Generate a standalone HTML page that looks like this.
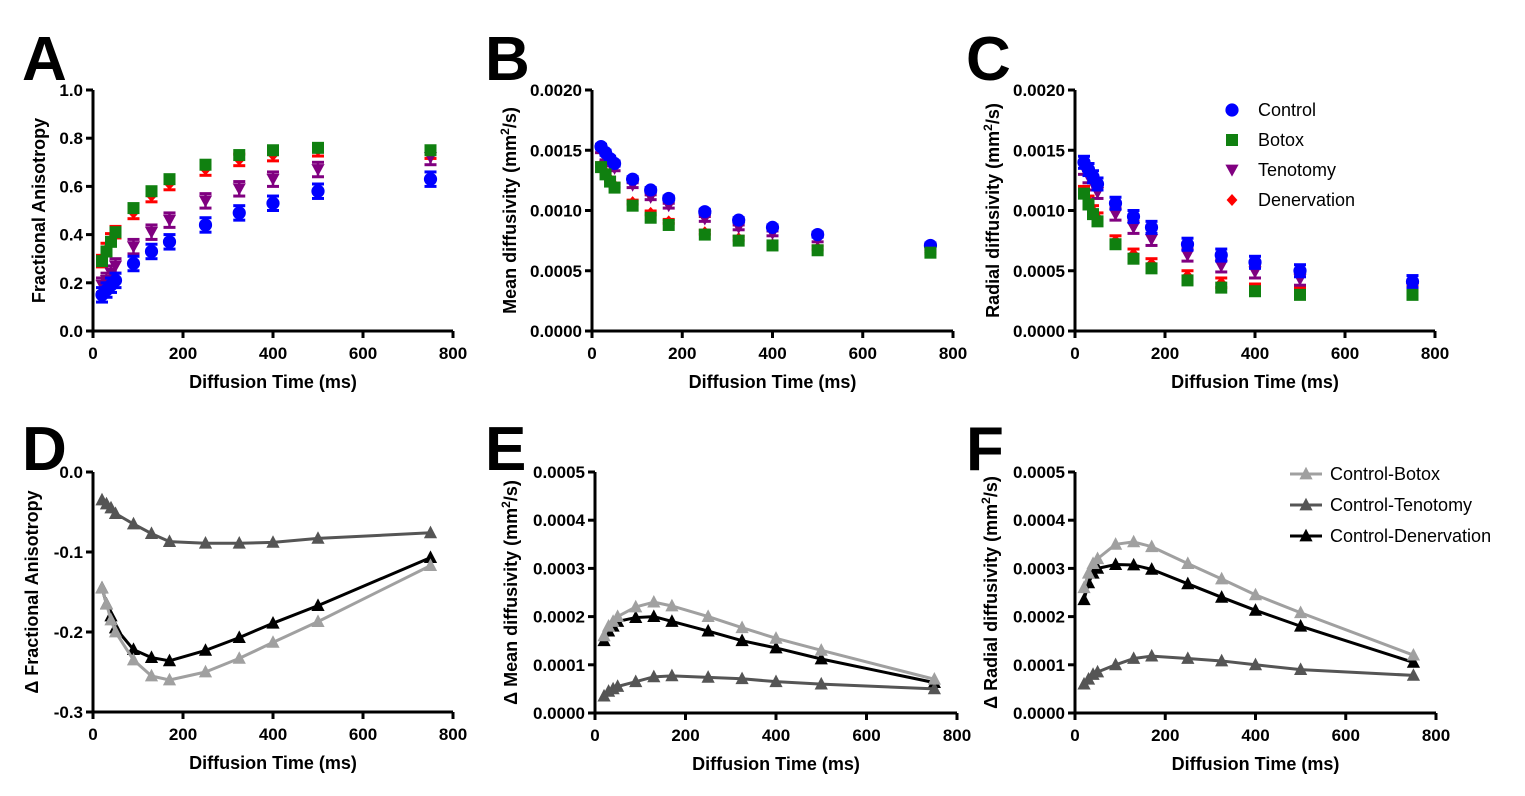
<!DOCTYPE html>
<html><head><meta charset="utf-8">
<style>
body{margin:0;background:#fff;}
svg{display:block;font-family:"Liberation Sans",Arial,sans-serif;}
.tk{font-size:17px;font-weight:bold;fill:#000;}
.ti{font-size:18px;font-weight:bold;fill:#000;}
.pl{font-size:62px;font-weight:bold;fill:#000;}
.lg{font-size:18px;fill:#000;}
</style></head>
<body>
<svg id="fig" width="1525" height="796" viewBox="0 0 1525 796" xmlns="http://www.w3.org/2000/svg"></svg>
<script>
const times=[20,30,40,50,90,130,170,250,325,400,500,750];
const xTicks=[0,200,400,600,800];
// Panel A
const faControl=[0.15,0.17,0.19,0.21,0.28,0.33,0.37,0.44,0.49,0.53,0.58,0.63];
const faBotox=[0.29,0.33,0.37,0.41,0.51,0.58,0.63,0.69,0.73,0.75,0.76,0.75];
const faTenotomy=[0.19,0.21,0.24,0.27,0.35,0.41,0.46,0.54,0.59,0.63,0.67,0.72];
const faDenervation=[0.29,0.34,0.38,0.41,0.49,0.56,0.61,0.67,0.71,0.73,0.75,0.74];
const faErr=0.03;
const faTicks=["0.0","0.2","0.4","0.6","0.8","1.0"];
// Panel B
const mdControl=[0.00153,0.00148,0.00143,0.00139,0.00126,0.00117,0.00110,0.00099,0.00092,0.00086,0.00080,0.00071];
const mdBotox=[0.00136,0.00130,0.00124,0.00119,0.00104,0.00094,0.00088,0.00080,0.00075,0.00071,0.00067,0.00065];
const mdTenotomy=[0.00150,0.00144,0.00139,0.00135,0.00121,0.00111,0.00104,0.00093,0.00086,0.00081,0.00076,0.00068];
const mdDenervation=[0.00138,0.00132,0.00126,0.00121,0.00107,0.00098,0.00091,0.00082,0.00077,0.00072,0.00069,0.00066];
const mdErr=0.00002;
const dTicks=["0.0000","0.0005","0.0010","0.0015","0.0020"];
// Panel C
const rdControl=[0.00140,0.00134,0.00128,0.00122,0.00106,0.00095,0.00086,0.00072,0.00063,0.00057,0.00050,0.00041];
const rdBotox=[0.00114,0.00105,0.00097,0.00091,0.00072,0.00060,0.00052,0.00042,0.00036,0.00033,0.00030,0.00030];
const rdTenotomy=[0.00135,0.00128,0.00122,0.00115,0.00097,0.00086,0.00076,0.00063,0.00054,0.00049,0.00043,0.00035];
const rdDenervation=[0.00116,0.00108,0.00100,0.00094,0.00075,0.00064,0.00056,0.00046,0.00040,0.00035,0.00032,0.00033];
const rdErr=0.00005;
// Panel D
const dfaCB=[-0.145,-0.165,-0.185,-0.200,-0.235,-0.255,-0.260,-0.250,-0.233,-0.213,-0.187,-0.117];
const dfaCT=[-0.035,-0.040,-0.045,-0.052,-0.065,-0.077,-0.087,-0.089,-0.089,-0.088,-0.083,-0.076];
const dfaCD=[-0.145,-0.165,-0.180,-0.195,-0.222,-0.232,-0.236,-0.223,-0.207,-0.189,-0.167,-0.107];
const dfaTicks=["-0.3","-0.2","-0.1","0.0"];
// Panel E
const dmdCB=[0.00016,0.00018,0.00019,0.00020,0.00022,0.00023,0.000222,0.00020,0.000177,0.000155,0.00013,0.00007];
const dmdCT=[0.000035,0.000045,0.00005,0.000055,0.000065,0.000075,0.000077,0.000074,0.000071,0.000065,0.00006,0.00005];
const dmdCD=[0.00015,0.00017,0.00018,0.00019,0.000198,0.0002,0.00019,0.00017,0.00015,0.000135,0.000112,0.000063];
const ddTicks=["0.0000","0.0001","0.0002","0.0003","0.0004","0.0005"];
// Panel F
const drdCB=[0.00026,0.00029,0.00031,0.00032,0.00035,0.000355,0.000345,0.00031,0.000278,0.000245,0.000208,0.00012];
const drdCT=[0.00006,0.00007,0.00008,0.000085,0.0001,0.000113,0.000118,0.000113,0.000108,0.0001,0.00009,0.000078];
const drdCD=[0.000235,0.00027,0.00029,0.0003,0.000308,0.000307,0.000298,0.000268,0.00024,0.000213,0.00018,0.000105];

const NS="http://www.w3.org/2000/svg";
const svg=document.getElementById('fig');
function mk(tag,attrs,parent,text){const e=document.createElementNS(NS,tag);for(const k in attrs)e.setAttribute(k,attrs[k]);if(text!==undefined)e.textContent=text;(parent||svg).appendChild(e);return e;}

function axes(g,P,yTicks,yTitle,sup){
  const xs=v=>P.x0+(v-0)/800*(P.x1-P.x0);
  const ys=v=>P.yb-(v-P.ymin)/(P.ymax-P.ymin)*(P.yb-P.yt);
  let ax=mk('line',{x1:P.x0,y1:P.yt,x2:P.x0,y2:P.yb,stroke:'#000','stroke-width':3},g);
  
  ax=mk('line',{x1:P.x0-1.5,y1:P.yb,x2:P.x1,y2:P.yb,stroke:'#000','stroke-width':3},g);
  
  xTicks.forEach(t=>{const x=xs(t);mk('line',{x1:x,y1:P.yb,x2:x,y2:P.yb+7,stroke:'#000','stroke-width':3},g);
    const l=mk('text',{x:x,y:P.yb+28,'text-anchor':'middle',class:'tk'},g,String(t));
    });
  yTicks.forEach(t=>{const y=ys(parseFloat(t));mk('line',{x1:P.x0-7,y1:y,x2:P.x0,y2:y,stroke:'#000','stroke-width':3},g);
    const l=mk('text',{x:P.x0-10,y:y+6,'text-anchor':'end',class:'tk'},g,t);
    });
  const xt=mk('text',{x:(P.x0+P.x1)/2,y:P.yb+57,'text-anchor':'middle',class:'ti'},g,'Diffusion Time (ms)');
  
  const yt=mk('text',{x:0,y:0,'text-anchor':'middle',class:'ti',transform:`translate(${P.x0-P.ytOff},${(P.yt+P.yb)/2}) rotate(-90)`},g);
  
  if(sup){yt.appendChild(document.createTextNode(yTitle+' (mm'));mk('tspan',{dy:-7,'font-size':12},yt,'2');mk('tspan',{dy:7},yt,'/s)');}
  else yt.textContent=yTitle;
  const pl=mk('text',{x:P.lx,y:P.ly,class:'pl'},g,P.letter);
  
  return {xs,ys};
}
function marker(g,type,x,y,color,s){
  if(type==='circle')return mk('circle',{cx:x,cy:y,r:s*0.55,fill:color},g);
  if(type==='square')return mk('rect',{x:x-s*0.5,y:y-s*0.5,width:s,height:s,fill:color},g);
  if(type==='down')return mk('polygon',{points:`${x-s*0.55},${y-s*0.45} ${x+s*0.55},${y-s*0.45} ${x},${y+s*0.55}`,fill:color},g);
  if(type==='diamond')return mk('polygon',{points:`${x},${y-s*0.5} ${x+s*0.45},${y} ${x},${y+s*0.5} ${x-s*0.45},${y}`,fill:color},g);
  if(type==='up')return mk('polygon',{points:`${x-s*0.55},${y+s*0.45} ${x+s*0.55},${y+s*0.45} ${x},${y-s*0.6}`,fill:color},g);
}
const groups=[['control','circle','#0000ff'],['botox','square','#108010'],['tenotomy','down','#800080'],['denervation','diamond','#ff0000']];
function scatterPanel(P,series,err,yTicks,yTitle,sup){
  const g=mk('g',{});
  const {xs,ys}=axes(g,P,yTicks,yTitle,sup);
  const order=[3,2,0,1];
  order.forEach(i=>{const [name,type,col]=groups[i];const sg=mk('g',{},g);
    
    series[i].forEach((v,j)=>{const x=xs(times[j]);
      if(i!==1){const e=(i===3?err*0.8:err);
        mk('line',{x1:x,y1:ys(v-e),x2:x,y2:ys(v+e),stroke:col,'stroke-width':2.5},sg);
        [v-e,v+e].forEach(w=>mk('line',{x1:x-6,y1:ys(w),x2:x+6,y2:ys(w),stroke:col,'stroke-width':3},sg));}
      const m=marker(sg,type,x,ys(v),col,12);
      });});
}
const lineGroups=[['control-botox','#a0a0a0'],['control-tenotomy','#555555'],['control-denervation','#000000']];
function linePanel(P,series,yTicks,yTitle,sup){
  const g=mk('g',{});
  const {xs,ys}=axes(g,P,yTicks,yTitle,sup);
  [2,1,0].forEach(i=>{const [name,col]=lineGroups[i];const sg=mk('g',{},g);
    
    const pts=series[i].map((v,j)=>xs(times[j])+','+ys(v)).join(' ');
    const pl=mk('polyline',{points:pts,fill:'none',stroke:col,'stroke-width':3,'stroke-linejoin':'round'},sg);
    
    series[i].forEach((v,j)=>{const m=marker(sg,'up',xs(times[j]),ys(v),col,12);
      });});
}
scatterPanel({letter:'A',x0:93,x1:453,yt:90,yb:331,ymin:0,ymax:1,ytOff:48,lx:22,ly:80},[faControl,faBotox,faTenotomy,faDenervation],faErr,faTicks,'Fractional Anisotropy',false);
scatterPanel({letter:'B',x0:592,x1:953,yt:90,yb:331,ymin:0,ymax:0.002,ytOff:76,lx:485,ly:80},[mdControl,mdBotox,mdTenotomy,mdDenervation],mdErr,dTicks,'Mean diffusivity',true);
scatterPanel({letter:'C',x0:1075,x1:1435,yt:90,yb:331,ymin:0,ymax:0.002,ytOff:76,lx:966,ly:80},[rdControl,rdBotox,rdTenotomy,rdDenervation],rdErr,dTicks,'Radial diffusivity',true);
linePanel({letter:'D',x0:93,x1:453,yt:472,yb:712,ymin:-0.3,ymax:0,ytOff:55,lx:22,ly:470},[dfaCB,dfaCT,dfaCD],dfaTicks,'Δ Fractional Anisotropy',false);
linePanel({letter:'E',x0:595,x1:957,yt:472,yb:713,ymin:0,ymax:0.0005,ytOff:78,lx:485,ly:470},[dmdCB,dmdCT,dmdCD],ddTicks,'Δ Mean diffusivity',true);
linePanel({letter:'F',x0:1075,x1:1436,yt:472,yb:713,ymin:0,ymax:0.0005,ytOff:78,lx:966,ly:470},[drdCB,drdCT,drdCD],ddTicks,'Δ Radial diffusivity',true);

// Legends
const lg1=mk('g',{});
['Control','Botox','Tenotomy','Denervation'].forEach((t,i)=>{const y=110+i*30;
  const e=mk('g',{},lg1);
  marker(e,groups[i][1],1232,y,groups[i][2],12);mk('text',{x:1258,y:y+6,class:'lg'},e,t);});
const lg2=mk('g',{});
['Control-Botox','Control-Tenotomy','Control-Denervation'].forEach((t,i)=>{const y=474+i*31;
  const e=mk('g',{},lg2);
  mk('line',{x1:1290,y1:y,x2:1322,y2:y,stroke:lineGroups[i][1],'stroke-width':3},e);
  marker(e,'up',1306,y,lineGroups[i][1],12);mk('text',{x:1330,y:y+6,class:'lg'},e,t);});
</script>
</body></html>
